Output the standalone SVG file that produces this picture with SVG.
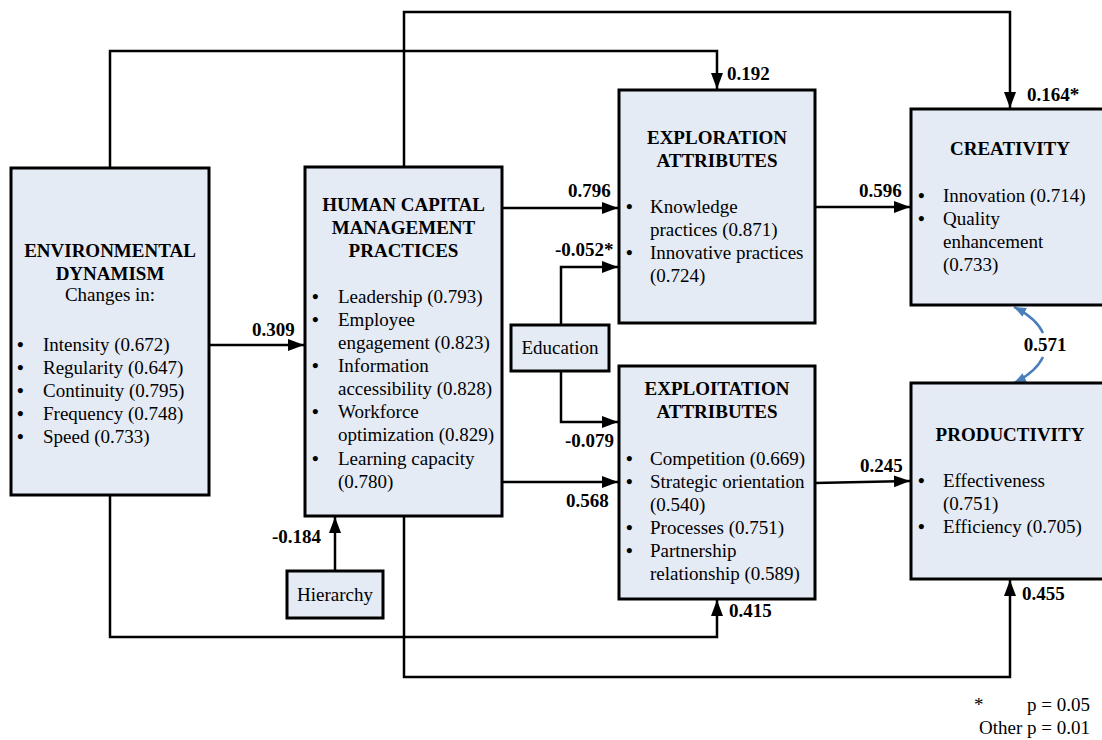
<svg xmlns="http://www.w3.org/2000/svg" width="1102" height="740" viewBox="0 0 1102 740">
<defs>
<marker id="ah" markerUnits="userSpaceOnUse" markerWidth="18" markerHeight="14" refX="16" refY="6" orient="auto"><path d="M0,0 L16,6 L0,12 z" fill="#000"/></marker>
<marker id="bh" markerUnits="userSpaceOnUse" markerWidth="14" markerHeight="12" refX="12" refY="5" orient="auto"><path d="M0,0 L12,5 L0,10 z" fill="#4a7ebb"/></marker>
<style>
.box{fill:#e5ebf5;stroke:#000;stroke-width:3}
.t{font-family:"Liberation Serif","Times New Roman",serif;font-size:19px;fill:#000}
.b{font-weight:bold}
.c{text-anchor:middle}
.e{text-anchor:end}
.u{font-family:"Liberation Serif","Times New Roman",serif;font-size:19px;font-weight:bold;fill:#000}
.ln{fill:none;stroke:#000;stroke-width:2.5}
.bl{fill:none;stroke:#4a7ebb;stroke-width:2.5}
</style>
</defs>
<rect width="1102" height="740" fill="#fff"/>

<g id="connectors">
<path class="ln" d="M110,168 V51 H717 V89" marker-end="url(#ah)"/>
<path class="ln" d="M404,167 V12 H1010 V108" marker-end="url(#ah)"/>
<path class="ln" d="M110,495 V637 H717 V600" marker-end="url(#ah)"/>
<path class="ln" d="M404,516 V677 H1010 V580" marker-end="url(#ah)"/>
<path class="ln" d="M209,345 H304" marker-end="url(#ah)"/>
<path class="ln" d="M502,208 H618" marker-end="url(#ah)"/>
<path class="ln" d="M502,482 H618" marker-end="url(#ah)"/>
<path class="ln" d="M561,325 V267 H618" marker-end="url(#ah)"/>
<path class="ln" d="M561,371 V422 H618" marker-end="url(#ah)"/>
<path class="ln" d="M815,207 H910" marker-end="url(#ah)"/>
<path class="ln" d="M815,483 L910,481" marker-end="url(#ah)"/>
<path class="ln" d="M335,571 V517" marker-end="url(#ah)"/>
<path class="bl" d="M1043,333 Q1036,318 1014,307" marker-end="url(#bh)"/>
<path class="bl" d="M1043,357 Q1036,372 1014,383" marker-end="url(#bh)"/>
<g class="t b">
<text x="252" y="336">0.309</text>
<text x="568" y="197">0.796</text>
<text x="555" y="256">-0.052*</text>
<text x="565" y="447">-0.079</text>
<text x="566" y="507">0.568</text>
<text x="859" y="197">0.596</text>
<text x="860" y="472">0.245</text>
<text x="727" y="80">0.192</text>
<text x="1027" y="101">0.164*</text>
<text x="272" y="543">-0.184</text>
<text x="729" y="617">0.415</text>
<text x="1022" y="600">0.455</text>
<text x="1045" y="351" class="c">0.571</text>
</g>
</g>

<g id="env">
<rect class="box" x="11" y="168" width="198" height="327"/>
<text class="t b c" x="110" y="257">ENVIRONMENTAL</text>
<text class="t b c" x="110" y="280">DYNAMISM</text>
<text class="t c" x="110" y="301">Changes in:</text>
<g class="u">
<text x="17" y="351">•</text><text x="17" y="374">•</text><text x="17" y="397">•</text><text x="17" y="420">•</text><text x="17" y="443">•</text>
</g>
<g class="t">
<text x="43" y="351">Intensity (0.672)</text>
<text x="43" y="374">Regularity (0.647)</text>
<text x="43" y="397">Continuity (0.795)</text>
<text x="43" y="420">Frequency (0.748)</text>
<text x="43" y="443">Speed (0.733)</text>
</g>
</g>

<g id="hcm">
<rect class="box" x="305" y="167" width="197" height="349"/>
<text class="t b c" x="403.5" y="211">HUMAN CAPITAL</text>
<text class="t b c" x="403.5" y="234">MANAGEMENT</text>
<text class="t b c" x="403.5" y="257">PRACTICES</text>
<g class="u">
<text x="312" y="303">•</text><text x="312" y="326">•</text><text x="312" y="372">•</text><text x="312" y="418">•</text><text x="312" y="465">•</text>
</g>
<g class="t">
<text x="338" y="303">Leadership (0.793)</text>
<text x="338" y="326">Employee</text>
<text x="338" y="349">engagement (0.823)</text>
<text x="338" y="372">Information</text>
<text x="338" y="395">accessibility (0.828)</text>
<text x="338" y="418">Workforce</text>
<text x="338" y="441">optimization (0.829)</text>
<text x="338" y="465">Learning capacity</text>
<text x="338" y="488">(0.780)</text>
</g>
</g>

<g id="education">
<rect class="box" x="511" y="325" width="98" height="46"/>
<text class="t c" x="560" y="354">Education</text>
</g>

<g id="hierarchy">
<rect class="box" x="287" y="571" width="96" height="47"/>
<text class="t c" x="335" y="601">Hierarchy</text>
</g>

<g id="exploration">
<rect class="box" x="619" y="90" width="196" height="233"/>
<text class="t b c" x="717" y="144">EXPLORATION</text>
<text class="t b c" x="717" y="167">ATTRIBUTES</text>
<g class="u">
<text x="626" y="213">•</text><text x="626" y="259">•</text>
</g>
<g class="t">
<text x="650" y="213">Knowledge</text>
<text x="650" y="236">practices (0.871)</text>
<text x="650" y="259">Innovative practices</text>
<text x="650" y="282">(0.724)</text>
</g>
</g>

<g id="exploitation">
<rect class="box" x="619" y="366" width="196" height="233"/>
<text class="t b c" x="717" y="395">EXPLOITATION</text>
<text class="t b c" x="717" y="418">ATTRIBUTES</text>
<g class="u">
<text x="626" y="465">•</text><text x="626" y="488">•</text><text x="626" y="534">•</text><text x="626" y="557">•</text>
</g>
<g class="t">
<text x="650" y="465">Competition (0.669)</text>
<text x="650" y="488">Strategic orientation</text>
<text x="650" y="511">(0.540)</text>
<text x="650" y="534">Processes (0.751)</text>
<text x="650" y="557">Partnership</text>
<text x="650" y="580">relationship (0.589)</text>
</g>
</g>

<g id="creativity">
<rect class="box" x="911" y="109" width="198" height="196"/>
<text class="t b c" x="1010" y="155">CREATIVITY</text>
<g class="u">
<text x="918" y="202">•</text><text x="918" y="225">•</text>
</g>
<g class="t">
<text x="943" y="202">Innovation (0.714)</text>
<text x="943" y="225">Quality</text>
<text x="943" y="248">enhancement</text>
<text x="943" y="271">(0.733)</text>
</g>
</g>

<g id="productivity">
<rect class="box" x="911" y="383" width="198" height="196"/>
<text class="t b c" x="1010" y="441">PRODUCTIVITY</text>
<g class="u">
<text x="918" y="487">•</text><text x="918" y="533">•</text>
</g>
<g class="t">
<text x="943" y="487">Effectiveness</text>
<text x="943" y="510">(0.751)</text>
<text x="943" y="533">Efficiency (0.705)</text>
</g>
</g>

<g id="footnote" class="t">
<text x="974" y="711">*</text>
<text class="e" x="1090" y="711">p = 0.05</text>
<text class="e" x="1090" y="734">Other p = 0.01</text>
</g>
</svg>
